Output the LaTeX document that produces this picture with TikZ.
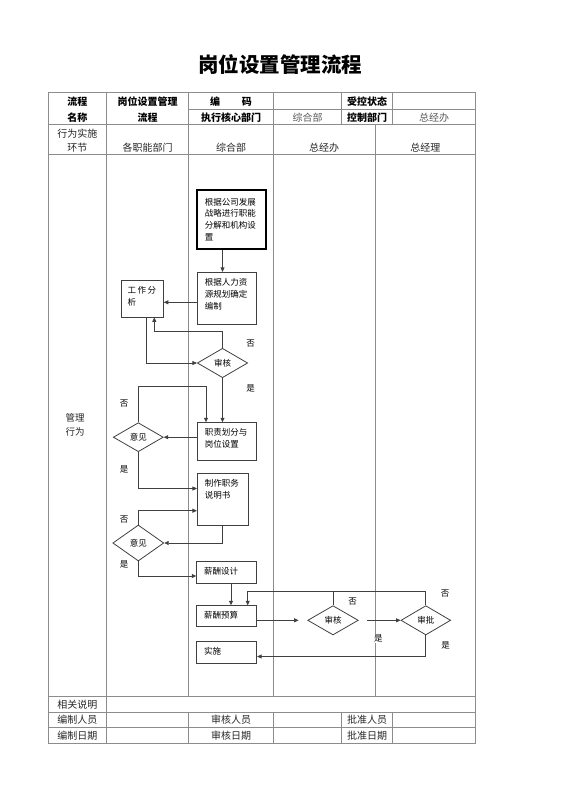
\documentclass[tikz,border=0pt]{standalone}
\usepackage{fontspec}
\setmainfont{Noto Sans CJK SC}
\usepackage{tikz}
\usetikzlibrary{shapes.geometric,arrows.meta}
\definecolor{gridc}{gray}{0.55}
\definecolor{linec}{gray}{0.25}
\tikzset{
  cell/.style={font=\fontsize{10}{12}\selectfont, text=black!85, inner sep=0pt},
  hcell/.style={cell, font=\fontsize{10}{12}\selectfont\bfseries, text=black},
  flowbox/.style={draw=linec, line width=0.8pt, inner xsep=7.5pt, inner ysep=2pt, align=left,
    text height=11.2pt, font=\fontsize{8.5}{11.8}\selectfont},
  check/.style={diamond, draw=linec, line width=0.8pt, inner sep=0pt,
    font=\fontsize{8.5}{10}\selectfont},
  yesno/.style={font=\fontsize{8.5}{10}\selectfont, fill=white, inner sep=1pt},
  arr/.style={draw=linec, line width=0.8pt, -{Triangle[length=4.5pt,width=4pt]}}
}
\begin{document}
\begin{tikzpicture}[x=1pt,y=-1pt]
\useasboundingbox (0,0) rectangle (560,792);

% Title
\node (title) at (280,65) {\fontsize{20.5}{24}\selectfont\bfseries 岗位设置管理流程};

% Table frame
\draw [gridc, line width=0.7pt] (48,92.3) rectangle (475.7,743.3);
\draw [gridc, line width=0.7pt] (48,124) -- (475.7,124);
\draw [gridc, line width=0.7pt] (48,154.3) -- (475.7,154.3);
\draw [gridc, line width=0.7pt] (188.7,109) -- (475.7,109);
\draw [gridc, line width=0.7pt] (48,696.7) -- (475.7,696.7);
\draw [gridc, line width=0.7pt] (48,712.3) -- (475.7,712.3);
\draw [gridc, line width=0.7pt] (48,727.7) -- (475.7,727.7);
\draw [gridc, line width=0.7pt] (106.7,92.3) -- (106.7,743.3);
\draw [gridc, line width=0.7pt] (188.7,92.3) -- (188.7,696.7);
\draw [gridc, line width=0.7pt] (188.7,712.3) -- (188.7,743.3);
\draw [gridc, line width=0.7pt] (273.3,92.3) -- (273.3,696.7);
\draw [gridc, line width=0.7pt] (273.3,712.3) -- (273.3,743.3);
\draw [gridc, line width=0.7pt] (341.7,92.3) -- (341.7,124);
\draw [gridc, line width=0.7pt] (341.7,712.3) -- (341.7,743.3);
\draw [gridc, line width=0.7pt] (392.3,92.3) -- (392.3,124);
\draw [gridc, line width=0.7pt] (392.3,712.3) -- (392.3,743.3);
\draw [gridc, line width=0.7pt] (375,124) -- (375,696.7);

% Header cells
\node [hcell] (hn1) at (77.3,101.7) {流程};
\node [hcell] (hn2) at (77.3,117.3) {名称};
\node [hcell] (hp1) at (147.7,101.7) {岗位设置管理};
\node [hcell] (hp2) at (147.7,117.3) {流程};
\node [hcell] (hcode) at (231,101.7) {编\hspace{2.2em}码};
\node [hcell] (hctl) at (367,101.7) {受控状态};
\node [hcell] (hexe) at (231,117.3) {执行核心部门};
\node [cell, text=black!65] (vexe) at (307.5,117.3) {综合部};
\node [hcell] (hdep) at (367,117.3) {控制部门};
\node [cell, text=black!65] (vdep) at (434,117.3) {总经办};

% Lane headers
\node [cell] (l0a) at (77.3,133.3) {行为实施};
\node [cell] (l0b) at (77.3,147.3) {环节};
\node [cell] (l1) at (147.7,147.3) {各职能部门};
\node [cell] (l2) at (231,147.3) {综合部};
\node [cell] (l3) at (324.2,147.3) {总经办};
\node [cell] (l4) at (425.3,147.3) {总经理};
\node [cell, align=center, font=\fontsize{9.5}{14}\selectfont] (side) at (75,425.3) {管理\\行为};

% Footer cells
\node [cell] (f1) at (77.3,704.5) {相关说明};
\node [cell] (f2) at (77.3,720) {编制人员};
\node [cell] (f3) at (231,720) {审核人员};
\node [cell] (f4) at (367,720) {批准人员};
\node [cell] (f5) at (77.3,735.5) {编制日期};
\node [cell] (f6) at (231,735.5) {审核日期};
\node [cell] (f7) at (367,735.5) {批准日期};

% Flow boxes
\node [flowbox, line width=2.2pt, draw=black, minimum width=68.4pt, minimum height=59pt, text width=53.4pt,
  text height=13pt, text depth=42pt] (plan) at (231.5,219.5) {根据公司发展\\战略进行职能\\分解和机构设\\置};
\node [flowbox, minimum width=59.4pt, minimum height=52pt, text width=44.4pt, text depth=36.8pt]
  (staff) at (227,298.3) {根据人力资\\源规划确定\\编制};
\node [flowbox, minimum width=42.3pt, minimum height=37pt, text width=29pt, inner xsep=6.5pt, text depth=21.8pt]
  (job) at (142.2,298.5) {工\,作\,分\\析};
\node [check, minimum width=50.4pt, minimum height=29.4pt] (rev1) at (222.5,363) {审核};
\node [flowbox, minimum width=59.4pt, minimum height=37.3pt, text width=44.4pt, text depth=22.1pt]
  (duty) at (227,441.3) {职责划分与\\岗位设置};
\node [check, minimum width=50pt, minimum height=29pt] (opn1) at (138.3,437.2) {意见};
\node [flowbox, minimum width=50.7pt, minimum height=51.7pt, text width=35.7pt, text depth=36.5pt]
  (desc) at (222.7,499.2) {制作职务\\说明书};
\node [check, minimum width=51pt, minimum height=36pt] (opn2) at (138.3,543) {意见};
\node [flowbox, minimum width=60pt, minimum height=21.6pt, text width=45pt, text depth=6.4pt]
  (pay) at (226.7,572.5) {薪酬设计};
\node [flowbox, minimum width=60pt, minimum height=21pt, text width=45pt, text depth=5.8pt]
  (budget) at (226.7,616.2) {薪酬预算};
\node [check, minimum width=50.6pt, minimum height=29.3pt] (rev2) at (333,620.3) {审核};
\node [check, minimum width=49.7pt, minimum height=29.3pt] (appr) at (425.8,620.3) {审批};
\node [flowbox, minimum width=60pt, minimum height=21.6pt, text width=45pt, text depth=6.4pt]
  (run) at (226.7,652.5) {实施};

% Connectors
\coordinate (back1) at (154.3,331.7);
\coordinate (back2) at (206,386);
\coordinate (back3) at (247.7,591);
\draw [arr] (plan.south -| rev1.north) -- (staff.north -| rev1.north);
\draw [arr] ([yshift=-4pt]staff.west) -- ([yshift=-4pt]staff.west -| job.east);
\draw [arr] ([xshift=4.5pt]job.south) |- (rev1.west);
\draw [arr] (rev1.north) |- (back1) -- (back1 |- job.south);
\draw [arr] (rev1.south) -- (rev1.south |- duty.north);
\draw [arr] (opn1.north) |- (back2) -- (back2 |- duty.north);
\draw [arr] (duty.west |- opn1.east) -- (opn1.east);
\draw [arr] (opn1.south) |- ([yshift=10.7pt]desc.west);
\draw [arr] (desc.south) |- (opn2.east);
\draw [arr] (opn2.north) |- ([yshift=-11.5pt]desc.west);
\draw [arr] (opn2.south) |- ([yshift=-3.5pt]pay.west);
\draw [arr] ([xshift=4.3pt]pay.south) -- ([xshift=4.3pt]budget.north);
\draw [arr] (appr.north) |- (back3) -- (back3 |- budget.north);
\draw [draw=linec, line width=0.8pt] (rev2.north) -- (rev2.north |- back3);
\draw [arr, shorten >=8.7pt] (budget.east |- rev2.west) -- (rev2.west);
\draw [arr, shorten <=8.4pt] (rev2.east) -- (appr.west);
\draw [arr] (appr.south) |- ([yshift=-4pt]run.east);

% Yes / no labels
\node [yesno] (no1) at (250.7,343.3) {否};
\node [yesno] (yes1) at (250.7,388) {是};
\node [yesno] (no2) at (124,403.3) {否};
\node [yesno] (yes2) at (124,469.3) {是};
\node [yesno] (no3) at (124,520) {否};
\node [yesno] (yes3) at (124,564.3) {是};
\node [yesno] (no4) at (352.7,601.7) {否};
\node [yesno] (no5) at (445,593.3) {否};
\node [yesno] (yes4) at (378.3,638.3) {是};
\node [yesno] (yes5) at (445.7,645) {是};
\end{tikzpicture}
\end{document}
